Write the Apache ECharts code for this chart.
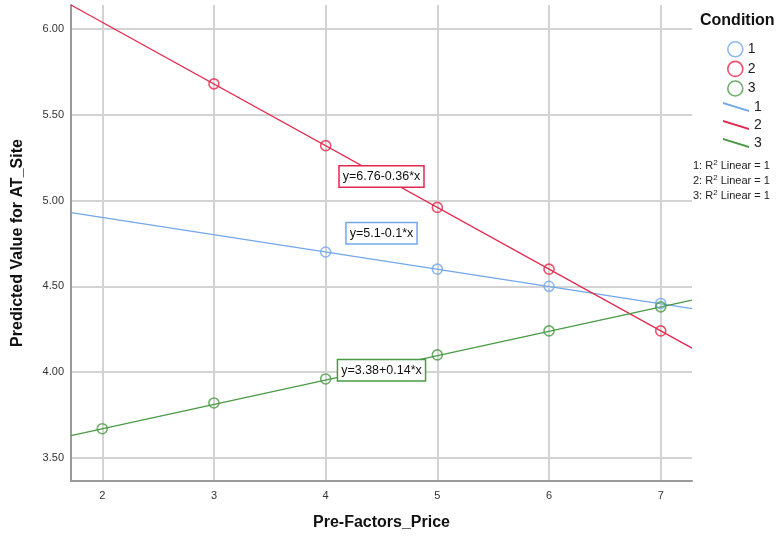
<!DOCTYPE html>
<html><head><meta charset="utf-8">
<script src="https://cdn.jsdelivr.net/npm/echarts@6/dist/echarts.min.js"></script>
<style>html,body{margin:0;padding:0;background:#fff}#c{width:784px;height:539px}</style>
</head><body><div id="c"></div>
<script>
// ---- data ----
const conditions = ['1', '2', '3'];
const x1 = [4, 5, 6, 7];
const y1 = [4.70, 4.60, 4.50, 4.40];
const x2 = [3, 4, 5, 6, 7];
const y2 = [5.68, 5.32, 4.96, 4.60, 4.24];
const x3 = [2, 3, 4, 5, 6, 7];
const y3 = [3.67, 3.82, 3.96, 4.10, 4.24, 4.38];
// fitted lines: values at the left and right ends of the x axis
const fitX = [1.72, 7.28];
const fit1 = [4.93, 4.37];
const fit2 = [6.14, 4.14];
const fit3 = [3.63, 4.42];
const equations = ['y=5.1-0.1*x', 'y=6.76-0.36*x', 'y=3.38+0.14*x'];
const eqX = [4.5, 4.5, 4.5];
const eqY = [4.81, 5.14, 4.01];
const r2Text = ['1: R{s|2} Linear = 1', '2: R{s|2} Linear = 1', '3: R{s|2} Linear = 1'];
const xTicks = [2, 3, 4, 5, 6, 7];
const yTicks = [3.5, 4.0, 4.5, 5.0, 5.5, 6.0];

const colors = ['#72a7ea', '#e3284f', '#4a9a45'];
const FONT = 'Arial, "Liberation Sans", sans-serif';
const xs = [x1, x2, x3], ys = [y1, y2, y3], fits = [fit1, fit2, fit3];

const series = [];
conditions.forEach((c, i) => {
  series.push({
    name: c + ' ', type: 'line', symbol: 'none', silent: true,
    data: fitX.map((x, k) => [x, fits[i][k]]),
    lineStyle: { color: colors[i], width: 1.3 },
    itemStyle: { color: colors[i] }, z: 2
  });
});
conditions.forEach((c, i) => {
  series.push({
    name: c, type: 'scatter', symbol: 'circle', symbolSize: 10,
    data: xs[i].map((x, k) => [x, ys[i][k]]),
    itemStyle: { color: 'rgba(255,255,255,0)', borderColor: colors[i], borderWidth: 1.6 }, z: 3
  });
});
conditions.forEach((c, i) => {
  series.push({
    name: 'eq' + c, type: 'scatter', symbolSize: 2, silent: true, z: 5,
    itemStyle: { color: 'rgba(0,0,0,0)' },
    data: [[eqX[i], eqY[i]]],
    label: {
      show: true, position: 'inside', formatter: equations[i], color: '#111',
      fontFamily: FONT, fontSize: 12.5, backgroundColor: '#fff', opacity: 1,
      borderColor: colors[i], borderWidth: 1.5, padding: [4, 3, 3, 3]
    },
    labelLayout: { hideOverlap: false }
  });
});

const diag = 'path://M0,0 L26,8 L26,10 L0,2 Z';
const chart = echarts.init(document.getElementById('c'), null, { renderer: 'canvas' });
chart.setOption({
  animation: false,
  backgroundColor: '#fff',
  grid: { left: 71, right: 92, top: 5, bottom: 58, containLabel: false },
  xAxis: {
    type: 'value', min: 1.72, max: 7.28,
    name: 'Pre-Factors_Price', nameLocation: 'middle', nameGap: 34,
    nameTextStyle: { fontFamily: FONT, fontSize: 16, fontWeight: 'bold', color: '#111' },
    axisLine: { show: true, onZero: false, lineStyle: { color: '#9a9a9a', width: 2 } },
    axisTick: { show: false },
    axisLabel: {
      margin: 9, color: '#333', fontFamily: FONT, fontSize: 11,
      formatter: v => (xTicks.some(t => Math.abs(t - v) < 1e-6) ? String(Math.round(v)) : '')
    },
    splitLine: { show: true, showMinLine: false, showMaxLine: false, lineStyle: { color: '#d3d3d3', width: 2 } }
  },
  yAxis: {
    type: 'value', min: 3.365, max: 6.14,
    name: 'Predicted Value for AT_Site', nameLocation: 'middle', nameGap: 45,
    nameTextStyle: { fontFamily: FONT, fontSize: 16, fontWeight: 'bold', color: '#111' },
    axisLine: { show: true, onZero: false, lineStyle: { color: '#9a9a9a', width: 2 } },
    axisTick: { show: false },
    axisLabel: {
      margin: 7, color: '#333', fontFamily: FONT, fontSize: 11,
      formatter: v => (yTicks.some(t => Math.abs(t - v) < 1e-6) ? v.toFixed(2) : '')
    },
    splitLine: { show: true, showMinLine: false, showMaxLine: false, lineStyle: { color: '#d3d3d3', width: 2 } }
  },
  legend: [
    {
      orient: 'vertical', left: 722, top: 36, itemWidth: 15, itemHeight: 15, itemGap: 3,
      selectedMode: false,
      textStyle: { fontFamily: FONT, fontSize: 14, color: '#222' },
      data: conditions.map((c, i) => ({
        name: c, icon: 'circle',
        itemStyle: { color: 'rgba(255,255,255,0)', borderColor: colors[i], borderWidth: 1.6 }
      }))
    },
    {
      orient: 'vertical', left: 718, top: 95, itemWidth: 26, itemHeight: 10, itemGap: 4,
      selectedMode: false,
      textStyle: { fontFamily: FONT, fontSize: 14, color: '#222', padding: [6, 0, 0, 0] },
      formatter: n => n.trim(),
      data: conditions.map((c, i) => ({ name: c + ' ', icon: diag, itemStyle: { color: colors[i] } }))
    }
  ],
  graphic: [
    { type: 'text', left: 700, top: 13, style: { text: 'Condition', font: 'bold 16px ' + FONT, fill: '#111' } }
  ].concat(r2Text.map((t, i) => ({
    type: 'text', left: 693, top: 159 + i * 15,
    style: {
      text: t, fill: '#222', font: '11px ' + FONT,
      rich: { s: { fontSize: 8, verticalAlign: 'top', padding: [0, 0, 5, 0], fill: '#222', fontFamily: FONT } }
    }
  }))),
  series: series
});
</script></body></html>
